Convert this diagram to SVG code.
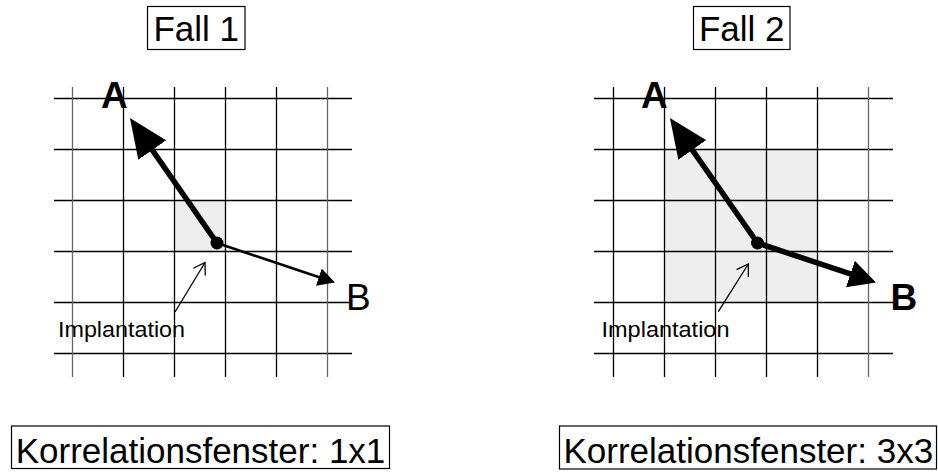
<svg xmlns="http://www.w3.org/2000/svg" width="938" height="473" viewBox="0 0 938 473">
<style>
.grid line{stroke:#000;stroke-width:1.3}
.grid line.outer{stroke:#666}
.shade{fill:#eeeeee;stroke:none}
.box{fill:#fff;stroke:#000;stroke-width:1.2}
.t{font-family:"Liberation Sans",Arial,sans-serif;fill:#000}
.big{font-size:35px}
.lbl{font-size:37px}
.bold{font-weight:bold}
.impl{font-size:22px}
.thick{stroke:#000;stroke-width:5.5;fill:none}
.thin{stroke:#000;stroke-width:2.7;fill:none}
.lead{stroke:#000;stroke-width:1.3;fill:none}
</style>
<defs>
<marker id="hA" markerUnits="userSpaceOnUse" viewBox="0 0 39 34" markerWidth="39" markerHeight="34" refX="19" refY="17" orient="auto"><path d="M0,0 L39,17 L0,34 z" fill="#000"/></marker>
<marker id="hBthick" markerUnits="userSpaceOnUse" viewBox="0 0 27 28" markerWidth="27" markerHeight="28" refX="15" refY="14" orient="auto"><path d="M0,0 L27,14 L0,28 z" fill="#000"/></marker>
<marker id="hBthin" markerUnits="userSpaceOnUse" viewBox="0 0 17 18" markerWidth="17" markerHeight="18" refX="9" refY="9" orient="auto"><path d="M0,0 L17,9 L0,18 z" fill="#000"/></marker>
<marker id="hOpen" markerUnits="userSpaceOnUse" viewBox="-1 -1 14 16" markerWidth="14" markerHeight="16" refX="11" refY="7" orient="auto"><path d="M0,0 L11,7 L0,14" fill="none" stroke="#000" stroke-width="1.3"/></marker>
</defs>
<rect width="938" height="473" fill="#fff"/>

<g id="panel1">
<rect class="shade" x="174.5" y="200.5" width="51" height="51"/>
<g class="grid">
<line x1="54" y1="98.5" x2="352" y2="98.5"/>
<line x1="54" y1="149.5" x2="352" y2="149.5"/>
<line x1="54" y1="200.5" x2="352" y2="200.5"/>
<line x1="54" y1="251.5" x2="352" y2="251.5"/>
<line x1="54" y1="302.5" x2="352" y2="302.5"/>
<line x1="54" y1="353.5" x2="352" y2="353.5"/>
<line class="outer" x1="72.5" y1="87" x2="72.5" y2="377"/>
<line x1="123.5" y1="87" x2="123.5" y2="377"/>
<line x1="174.5" y1="87" x2="174.5" y2="377"/>
<line x1="225.5" y1="87" x2="225.5" y2="377"/>
<line x1="276.5" y1="87" x2="276.5" y2="377"/>
<line class="outer" x1="327.5" y1="87" x2="327.5" y2="377"/>
</g>
</g>

<g id="panel2">
<rect class="shade" x="664.5" y="149.5" width="153" height="153"/>
<g class="grid">
<line x1="594" y1="98.5" x2="893" y2="98.5"/>
<line x1="594" y1="149.5" x2="893" y2="149.5"/>
<line x1="594" y1="200.5" x2="893" y2="200.5"/>
<line x1="594" y1="251.5" x2="893" y2="251.5"/>
<line x1="594" y1="302.5" x2="893" y2="302.5"/>
<line x1="594" y1="353.5" x2="893" y2="353.5"/>
<line x1="613.5" y1="87" x2="613.5" y2="377"/>
<line x1="664.5" y1="87" x2="664.5" y2="377"/>
<line x1="715.5" y1="87" x2="715.5" y2="377"/>
<line x1="766.5" y1="87" x2="766.5" y2="377"/>
<line x1="817.5" y1="87" x2="817.5" y2="377"/>
<line class="outer" x1="868.5" y1="87" x2="868.5" y2="377"/>
</g>
</g>

<g id="connectors">
<line class="thick" x1="217" y1="243" x2="141.4" y2="134.4" marker-end="url(#hA)"/>
<line class="thin" x1="217" y1="243" x2="327.4" y2="280" marker-end="url(#hBthin)"/>
<line class="lead" x1="175" y1="312" x2="205" y2="262.5" marker-end="url(#hOpen)"/>
<line class="thick" x1="757.5" y1="243" x2="681.4" y2="134.4" marker-end="url(#hA)"/>
<line class="thick" x1="757.5" y1="243" x2="864.6" y2="278.7" marker-end="url(#hBthick)"/>
<line class="lead" x1="718.3" y1="311.7" x2="748.3" y2="264" marker-end="url(#hOpen)"/>
</g>

<g id="title1"><rect class="box" x="147.5" y="6.5" width="97.5" height="43"/><text class="t big" x="196.2" y="41" text-anchor="middle">Fall 1</text></g>
<g id="title2"><rect class="box" x="693.5" y="6.5" width="96.5" height="43"/><text class="t big" x="741.7" y="41" text-anchor="middle">Fall 2</text></g>

<g id="dot1"><circle cx="217" cy="243" r="6.5" fill="#000"/></g>
<g id="dot2"><circle cx="757.5" cy="243" r="6.5" fill="#000"/></g>

<g id="A1"><text class="t lbl bold" x="101" y="108" font-size="39">A</text></g>
<g id="B1"><text class="t lbl" x="346" y="310">B</text></g>
<g id="A2"><text class="t lbl bold" x="641" y="108" font-size="39">A</text></g>
<g id="B2"><text class="t lbl bold" x="890.5" y="310">B</text></g>

<g id="impl1"><text class="t impl" x="58" y="337" textLength="127" lengthAdjust="spacingAndGlyphs">Implantation</text></g>
<g id="impl2"><text class="t impl" x="601.5" y="337" textLength="128" lengthAdjust="spacingAndGlyphs">Implantation</text></g>

<g id="corr1"><rect class="box" x="11.5" y="426" width="378" height="42.5"/><text class="t big" x="200.5" y="463" text-anchor="middle">Korrelationsfenster: 1x1</text></g>
<g id="corr2"><rect class="box" x="559.5" y="426" width="377" height="43"/><text class="t big" x="748.3" y="463" text-anchor="middle">Korrelationsfenster: 3x3</text></g>
</svg>
